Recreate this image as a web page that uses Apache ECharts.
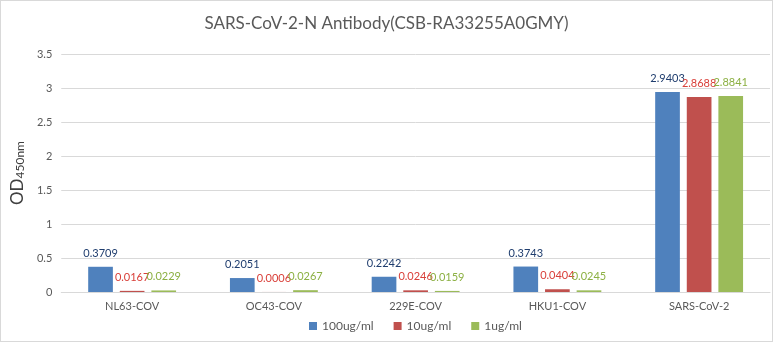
<!DOCTYPE html>
<html>
<head>
<meta charset="utf-8">
<script src="https://cdn.jsdelivr.net/npm/echarts@6/dist/echarts.min.js"></script>
<style>
  html, body { margin: 0; padding: 0; background: #fff; }
  #chart { width: 771px; height: 340px; border: 1px solid #d9d9d9; }
</style>
</head>
<body>
<div id="chart"></div>
<script>
var categories = ['NL63-COV', 'OC43-COV', '229E-COV', 'HKU1-COV', 'SARS-CoV-2'];
var seriesNames = ['100ug/ml', '10ug/ml', '1ug/ml'];
var val100 = [0.3709, 0.2051, 0.2242, 0.3743, 2.9403];
var val10 = [0.0167, 0.0006, 0.0246, 0.0404, 2.8688];
var val1 = [0.0229, 0.0267, 0.0159, 0.0245, 2.8841];
var yTicks = [0, 0.5, 1, 1.5, 2, 2.5, 3, 3.5];

var barColors = ['#4f81bd', '#c0504d', '#9bbb59'];
var labelColors = ['#1f3d6e', '#d9403a', '#8cb043'];
var fontFam = 'Lato, "Open Sans", sans-serif';

var chart = echarts.init(document.getElementById('chart'));

function makeSeries(i, data) {
    return {
        name: seriesNames[i],
        type: 'bar',
        data: data,
        barGap: '28%',
        barCategoryGap: '38%',
        itemStyle: { color: barColors[i] },
        label: {
            show: true,
            position: 'top',
            distance: 8,
            color: labelColors[i],
            fontSize: 11,
            fontFamily: fontFam,
            formatter: function (p) { return p.value.toFixed(4); }
        }
    };
}

var option = {
    animation: false,
    title: {
        text: 'SARS-CoV-2-N Antibody(CSB-RA33255A0GMY)',
        left: 'center',
        top: 9,
        textStyle: { color: '#595959', fontSize: 17, fontWeight: 'normal', fontFamily: fontFam }
    },
    legend: {
        data: seriesNames,
        left: 303,
        bottom: 4,
        itemWidth: 8,
        itemHeight: 8,
        itemGap: 20,
        icon: 'rect',
        textStyle: { color: '#595959', fontSize: 12, fontFamily: fontFam }
    },
    grid: { left: 51, right: 2, top: 53, bottom: 49 },
    xAxis: {
        type: 'category',
        data: categories,
        axisLine: { lineStyle: { color: '#d9d9d9' } },
        axisTick: { show: false },
        axisLabel: { color: '#595959', fontSize: 11, fontFamily: fontFam, margin: 9 }
    },
    yAxis: {
        type: 'value',
        min: yTicks[0],
        max: yTicks[yTicks.length - 1],
        interval: 0.5,
        name: '{a|OD}{b|450nm}',
        nameLocation: 'middle',
        nameGap: 30,
        nameRotate: 90,
        nameTextStyle: {
            rich: {
                a: { fontSize: 17, color: '#404040', fontFamily: fontFam },
                b: { fontSize: 12, color: '#404040', fontFamily: fontFam, verticalAlign: 'bottom', padding: [5, 0, 0, 0] }
            }
        },
        splitLine: { lineStyle: { color: '#d9d9d9' } },
        axisLine: { show: false },
        axisTick: { show: false },
        axisLabel: { color: '#595959', fontSize: 11, fontFamily: fontFam, margin: 9 }
    },
    series: [makeSeries(0, val100), makeSeries(1, val10), makeSeries(2, val1)]
};

chart.setOption(option);
</script>
</body>
</html>
